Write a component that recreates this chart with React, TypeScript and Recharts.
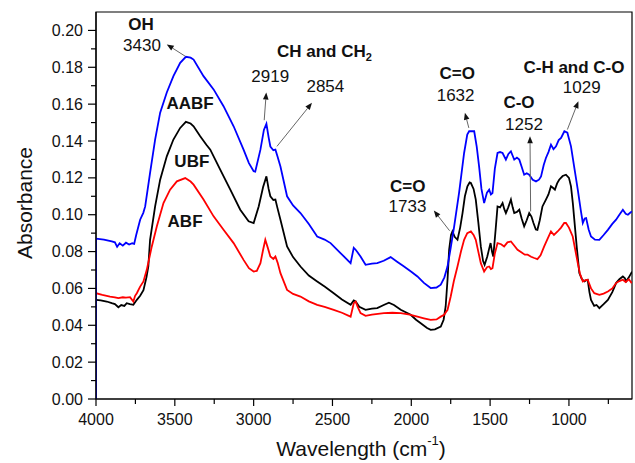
import React from 'react';
import { LineChart, Line, XAxis, YAxis, ReferenceArea, ReferenceDot, ReferenceLine } from 'recharts';

// AABF (blue)
const aabfWn = [4000, 4000, 3950, 3900, 3880, 3866, 3850, 3830, 3810, 3790, 3770, 3758, 3745, 3720, 3700, 3688, 3657, 3625, 3593, 3551, 3509, 3466, 3430, 3400, 3381, 3318, 3254, 3191, 3127, 3064, 3030, 3000, 2990, 2957, 2935, 2919, 2905, 2894, 2875, 2862, 2850, 2830, 2788, 2750, 2703, 2650, 2597, 2550, 2512, 2449, 2385, 2365, 2353, 2340, 2322, 2290, 2250, 2216, 2175, 2131, 2090, 2046, 2000, 1961, 1920, 1877, 1840, 1813, 1790, 1770, 1750, 1728, 1697, 1665, 1645, 1633, 1601, 1585, 1570, 1555, 1538, 1520, 1506, 1495, 1485, 1470, 1453, 1437, 1421, 1400, 1384, 1368, 1357, 1347, 1330, 1315, 1300, 1284, 1268, 1252, 1230, 1209, 1190, 1177, 1160, 1146, 1130, 1114, 1098, 1082, 1065, 1050, 1029, 1010, 987, 965, 944, 925, 912, 900, 891, 875, 860, 835, 807, 780, 753, 725, 701, 680, 658, 640, 626, 610, 600];
const aabfAbs = [0, 0.087, 0.0865, 0.0855, 0.085, 0.0826, 0.0845, 0.0832, 0.0848, 0.0838, 0.0845, 0.0842, 0.089, 0.0973, 0.101, 0.1045, 0.1227, 0.1408, 0.1554, 0.1663, 0.1752, 0.1824, 0.1857, 0.1852, 0.1842, 0.1752, 0.168, 0.1589, 0.148, 0.1353, 0.128, 0.1236, 0.1234, 0.1353, 0.146, 0.1493, 0.142, 0.137, 0.135, 0.1353, 0.132, 0.1262, 0.11, 0.105, 0.1009, 0.095, 0.0882, 0.0865, 0.0846, 0.0792, 0.0737, 0.082, 0.081, 0.0795, 0.0773, 0.0728, 0.0735, 0.0737, 0.075, 0.077, 0.0745, 0.0719, 0.069, 0.0665, 0.063, 0.0602, 0.0605, 0.062, 0.066, 0.072, 0.082, 0.0937, 0.1118, 0.1335, 0.1435, 0.1453, 0.1453, 0.137, 0.1262, 0.114, 0.1063, 0.112, 0.1136, 0.111, 0.1118, 0.125, 0.1335, 0.134, 0.1335, 0.1299, 0.133, 0.1344, 0.132, 0.1299, 0.131, 0.1299, 0.126, 0.1217, 0.1225, 0.1217, 0.119, 0.1181, 0.119, 0.1208, 0.127, 0.1308, 0.134, 0.138, 0.1355, 0.1371, 0.1405, 0.1417, 0.1453, 0.1445, 0.1371, 0.125, 0.1136, 0.1025, 0.0955, 0.098, 0.0982, 0.092, 0.0882, 0.0865, 0.0864, 0.089, 0.0918, 0.095, 0.0973, 0.1, 0.1027, 0.1005, 0.1, 0.1012, 0.1018];

// UBF (black)
const ubfWn = [4000, 3970, 3932, 3900, 3880, 3858, 3840, 3820, 3805, 3785, 3763, 3741, 3720, 3699, 3680, 3668, 3657, 3625, 3593, 3551, 3509, 3466, 3430, 3400, 3381, 3339, 3300, 3275, 3212, 3148, 3085, 3032, 3000, 2968, 2940, 2919, 2905, 2894, 2875, 2862, 2850, 2830, 2788, 2750, 2703, 2650, 2597, 2550, 2492, 2440, 2385, 2365, 2353, 2330, 2290, 2250, 2216, 2175, 2142, 2110, 2067, 2004, 1970, 1940, 1900, 1877, 1850, 1813, 1795, 1782, 1770, 1760, 1748, 1739, 1725, 1707, 1690, 1675, 1660, 1644, 1630, 1622, 1605, 1591, 1575, 1559, 1545, 1535, 1518, 1505, 1497, 1488, 1480, 1465, 1453, 1437, 1421, 1410, 1400, 1385, 1368, 1357, 1347, 1330, 1315, 1300, 1284, 1268, 1252, 1238, 1225, 1210, 1200, 1185, 1168, 1146, 1130, 1114, 1100, 1089, 1075, 1062, 1040, 1019, 1000, 987, 975, 966, 950, 934, 918, 902, 890, 881, 870, 860, 840, 825, 807, 780, 753, 725, 701, 680, 658, 645, 637, 620, 605, 600];
const ubfAbs = [0.0538, 0.0535, 0.0529, 0.052, 0.0515, 0.0498, 0.051, 0.0505, 0.052, 0.0515, 0.0511, 0.0538, 0.056, 0.059, 0.066, 0.072, 0.0864, 0.1045, 0.119, 0.1317, 0.1408, 0.1471, 0.1504, 0.1495, 0.148, 0.1426, 0.138, 0.1353, 0.1245, 0.1136, 0.1027, 0.0964, 0.0955, 0.1045, 0.115, 0.1208, 0.114, 0.11, 0.108, 0.1082, 0.104, 0.0973, 0.0828, 0.077, 0.0719, 0.067, 0.0638, 0.061, 0.0574, 0.054, 0.0511, 0.0535, 0.0529, 0.05, 0.0484, 0.049, 0.0493, 0.051, 0.0523, 0.051, 0.0484, 0.0457, 0.043, 0.0411, 0.0385, 0.0375, 0.0378, 0.0393, 0.043, 0.0502, 0.065, 0.081, 0.089, 0.0909, 0.088, 0.0864, 0.093, 0.1009, 0.11, 0.1154, 0.1175, 0.1172, 0.114, 0.1082, 0.096, 0.0828, 0.075, 0.0728, 0.0773, 0.082, 0.0846, 0.08, 0.0773, 0.092, 0.1045, 0.104, 0.1063, 0.103, 0.1009, 0.104, 0.1082, 0.104, 0.1009, 0.1015, 0.1027, 0.098, 0.0937, 0.097, 0.1009, 0.099, 0.0955, 0.092, 0.0918, 0.097, 0.1045, 0.1082, 0.111, 0.1154, 0.1145, 0.1136, 0.117, 0.119, 0.121, 0.1217, 0.12, 0.1154, 0.106, 0.0973, 0.082, 0.0683, 0.065, 0.0638, 0.0645, 0.0647, 0.058, 0.0538, 0.0505, 0.051, 0.0493, 0.0515, 0.0538, 0.058, 0.0629, 0.065, 0.0665, 0.0655, 0.0638, 0.066, 0.0683, 0.069];

// ABF (red)
const abfWn = [4000, 3960, 3911, 3880, 3858, 3830, 3810, 3784, 3763, 3752, 3741, 3720, 3699, 3678, 3646, 3614, 3572, 3530, 3487, 3434, 3400, 3381, 3318, 3254, 3191, 3127, 3064, 3030, 3000, 2980, 2957, 2940, 2926, 2910, 2894, 2875, 2862, 2848, 2830, 2788, 2750, 2703, 2650, 2597, 2550, 2492, 2440, 2385, 2365, 2353, 2340, 2322, 2290, 2250, 2174, 2120, 2067, 2010, 1961, 1920, 1877, 1840, 1813, 1792, 1770, 1750, 1730, 1707, 1685, 1665, 1645, 1622, 1605, 1591, 1575, 1559, 1538, 1520, 1506, 1495, 1485, 1470, 1453, 1430, 1411, 1390, 1368, 1345, 1326, 1300, 1280, 1262, 1240, 1220, 1200, 1180, 1157, 1135, 1114, 1095, 1072, 1050, 1030, 1019, 1000, 976, 960, 944, 930, 912, 895, 881, 860, 839, 807, 780, 753, 725, 701, 680, 658, 640, 620, 605, 600];
const abfAbs = [0.0574, 0.0565, 0.0556, 0.0552, 0.0547, 0.0552, 0.055, 0.0553, 0.0529, 0.056, 0.0574, 0.061, 0.0638, 0.0701, 0.0828, 0.0937, 0.1063, 0.1136, 0.1181, 0.1199, 0.118, 0.1163, 0.1082, 0.0991, 0.0918, 0.0846, 0.0755, 0.071, 0.0692, 0.0695, 0.0737, 0.081, 0.0864, 0.082, 0.0773, 0.076, 0.0773, 0.074, 0.0683, 0.0592, 0.057, 0.0556, 0.053, 0.0511, 0.05, 0.0484, 0.0468, 0.0447, 0.052, 0.0529, 0.05, 0.0466, 0.0451, 0.0458, 0.0466, 0.0468, 0.0466, 0.0458, 0.0447, 0.0438, 0.0429, 0.0432, 0.0447, 0.0457, 0.0484, 0.0556, 0.064, 0.0719, 0.08, 0.0864, 0.09, 0.0909, 0.089, 0.0864, 0.08, 0.0737, 0.0692, 0.0715, 0.0719, 0.0705, 0.071, 0.079, 0.0846, 0.084, 0.0828, 0.085, 0.0855, 0.083, 0.081, 0.0795, 0.0783, 0.0783, 0.0772, 0.0765, 0.0759, 0.078, 0.0828, 0.087, 0.0909, 0.089, 0.0909, 0.093, 0.0955, 0.0955, 0.093, 0.0882, 0.081, 0.0737, 0.068, 0.0638, 0.0645, 0.0647, 0.06, 0.0574, 0.0565, 0.0572, 0.0583, 0.06, 0.0629, 0.064, 0.0647, 0.0635, 0.065, 0.0632, 0.0635];

const xTicks = [4000, 3750, 3500, 3250, 3000, 2750, 2500, 2250, 2000, 1750, 1500, 1250, 1000, 750];
const xLabels = [4000, 3500, 3000, 2500, 2000, 1500, 1000];
const yTicks = [0, 0.01, 0.02, 0.03, 0.04, 0.05, 0.06, 0.07, 0.08, 0.09, 0.1, 0.11, 0.12, 0.13, 0.14, 0.15, 0.16, 0.17, 0.18, 0.19, 0.2];
const yLabels = ['0.00', '0.02', '0.04', '0.06', '0.08', '0.10', '0.12', '0.14', '0.16', '0.18', '0.20'];

const toRows = (wn: number[], abs: number[]) => wn.map((w, i) => ({ wn: w, abs: abs[i] }));

const FONT = '"Liberation Sans", Arial, sans-serif';

// text annotations, placed in data coordinates
const notes = [
  { wn: 3714, a: 0.2033, text: 'OH', bold: true },
  { wn: 3708, a: 0.1918, text: '3430' },
  { wn: 2551, a: 0.1886, text: 'CH and CH', sub: '2', bold: true },
  { wn: 2895, a: 0.175, text: '2919' },
  { wn: 2545, a: 0.1696, text: '2854' },
  { wn: 1708, a: 0.1766, text: 'C=O', bold: true },
  { wn: 1719, a: 0.1647, text: '1632' },
  { wn: 1317, a: 0.1609, text: 'C-O', bold: true },
  { wn: 1285, a: 0.1489, text: '1252' },
  { wn: 968, a: 0.1799, text: 'C-H and C-O', bold: true },
  { wn: 919, a: 0.169, text: '1029' },
  { wn: 2022, a: 0.1152, text: 'C=O', bold: true },
  { wn: 2024, a: 0.1043, text: '1733' },
  { wn: 3403, a: 0.1603, text: 'AABF', bold: true },
  { wn: 3392, a: 0.129, text: 'UBF', bold: true },
  { wn: 3435, a: 0.0964, text: 'ABF', bold: true },
];

// arrows: tail -> head
const arrows = [
  [{ x: 3434, y: 0.186 }, { x: 3551, y: 0.1924 }],
  [{ x: 2933, y: 0.1513 }, { x: 2920, y: 0.1663 }],
  [{ x: 2852, y: 0.1371 }, { x: 2630, y: 0.1607 }],
  [{ x: 1635, y: 0.1471 }, { x: 1660, y: 0.1553 }],
  [{ x: 1243, y: 0.1018 }, { x: 1247, y: 0.1426 }],
  [{ x: 1010, y: 0.1462 }, { x: 940, y: 0.1616 }],
  [{ x: 1757, y: 0.0913 }, { x: 1857, y: 0.1023 }],
];

const Arrow = (p: any) => {
  const { x1, y1, x2, y2 } = p;
  const ang = Math.atan2(y2 - y1, x2 - x1);
  const L = 7;
  const W = 2.8;
  const bx = x2 - L * Math.cos(ang);
  const by = y2 - L * Math.sin(ang);
  const px = -Math.sin(ang) * W;
  const py = Math.cos(ang) * W;
  return (
    <g>
      <line x1={x1} y1={y1} x2={bx} y2={by} stroke="#666" strokeWidth={1} />
      <polygon points={`${x2},${y2} ${bx + px},${by + py} ${bx - px},${by - py}`} fill="#111" />
    </g>
  );
};

const YTick = (p: any) => {
  const { x, y, payload } = p;
  const label = payload.value.toFixed(2);
  const major = yLabels.includes(label);
  return (
    <g>
      <line x1={x - (major ? 8 : 5)} x2={x} y1={y} y2={y} stroke="#000" strokeWidth={1.2} />
      {major && (
        <text x={x - 13} y={y} textAnchor="end" dominantBaseline="central" fontSize={16} fontFamily={FONT} fill="#111">
          {label}
        </text>
      )}
    </g>
  );
};

const XTick = (p: any) => {
  const { x, y, payload } = p;
  const major = xLabels.includes(payload.value);
  return (
    <g>
      <line x1={x} x2={x} y1={y} y2={y + (major ? 7 : 5)} stroke="#000" strokeWidth={1.2} />
      {major && (
        <text x={x} y={y + 20} textAnchor="middle" dominantBaseline="central" fontSize={16} fontFamily={FONT} fill="#111">
          {payload.value}
        </text>
      )}
    </g>
  );
};

export default function App() {
  return (
    <div style={{ position: 'absolute', left: 0, top: 0, width: 635, height: 463, background: '#fff' }}>
      <LineChart width={635} height={463} margin={{ top: 12, right: 3, left: 0, bottom: 0 }}>
        <XAxis
          type="number"
          dataKey="wn"
          domain={[600, 4000]}
          reversed
          allowDataOverflow
          ticks={xTicks}
          interval={0}
          tick={<XTick />}
          tickLine={false}
          tickSize={0}
          tickMargin={0}
          height={64}
          axisLine={{ stroke: '#000', strokeWidth: 1.2 }}
          label={{
            content: (lp: any) => {
              const vb = lp.viewBox;
              return (
                <text x={vb.x + vb.width / 2 - 3} y={448} textAnchor="middle" dominantBaseline="central" fontSize={21} fontFamily={FONT} fill="#111">
                  Wavelength (cm
                  <tspan fontSize={13} dy={-8}>-1</tspan>
                  <tspan dy={8}>)</tspan>
                </text>
              );
            },
          }}
        />
        <YAxis
          type="number"
          domain={[0, 0.21]}
          allowDataOverflow
          ticks={yTicks}
          interval={0}
          tick={<YTick />}
          tickLine={false}
          tickSize={0}
          tickMargin={0}
          width={96}
          axisLine={{ stroke: '#000', strokeWidth: 1.2 }}
          label={{
            content: () => (
              <text x={24} y={203} transform="rotate(-90 24 203)" textAnchor="middle" dominantBaseline="central" fontSize={21} fontFamily={FONT} fill="#111">
                Absorbance
              </text>
            ),
          }}
        />
        <ReferenceArea x1={600} x2={4000} y1={0} y2={0.21} fill="none" stroke="#000" strokeWidth={1.2} fillOpacity={0} />
        <Line data={toRows(ubfWn, ubfAbs)} dataKey="abs" type="linear" stroke="#000" strokeWidth={1.8} dot={false} isAnimationActive={false} />
        <Line data={toRows(abfWn, abfAbs)} dataKey="abs" type="linear" stroke="#f00" strokeWidth={1.8} dot={false} isAnimationActive={false} />
        <Line data={toRows(aabfWn, aabfAbs)} dataKey="abs" type="linear" stroke="#0000ff" strokeWidth={1.8} dot={false} isAnimationActive={false} />
        {arrows.map((seg, i) => (
          <ReferenceLine key={'a' + i} segment={seg} shape={Arrow} />
        ))}
        {notes.map((n, i) => (
          <ReferenceDot
            key={'n' + i}
            x={n.wn}
            y={n.a}
            r={0}
            shape={(p: any) => (
              <text x={p.cx} y={p.cy} textAnchor="middle" dominantBaseline="central" fontSize={17} fontWeight={n.bold ? 'bold' : 'normal'} fontFamily={FONT} fill="#111">
                {n.text}
                {n.sub && <tspan fontSize={11} dy={6}>{n.sub}</tspan>}
              </text>
            )}
          />
        ))}
      </LineChart>
    </div>
  );
}
